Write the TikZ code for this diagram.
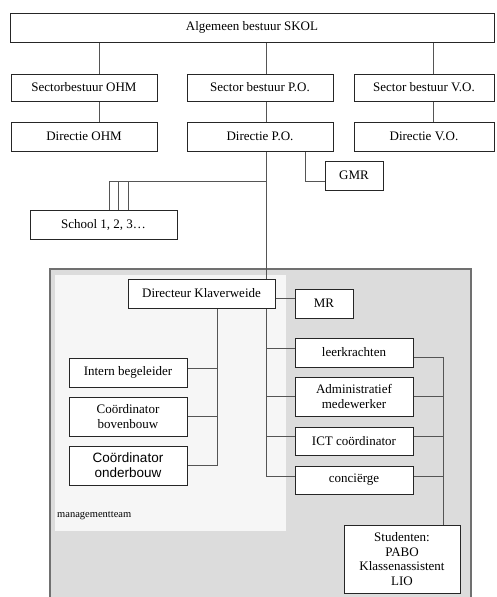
\documentclass[tikz,border=0pt]{standalone}
\usepackage{fontspec}
\setmainfont{Liberation Serif}
\newfontfamily\arialf{Liberation Sans}
\pgfdeclarelayer{bg}
\pgfdeclarelayer{lines}
\pgfsetlayers{bg,lines,main}
\definecolor{outerfill}{HTML}{DCDCDC}
\definecolor{innerfill}{HTML}{F6F6F6}
\definecolor{linecol}{HTML}{555555}
\definecolor{outerline}{HTML}{707070}
\tikzset{
  box/.style={draw=black!85, line width=0.8pt, fill=white, inner sep=1pt, align=center,
    font=\fontsize{13}{14.7}\selectfont},
  conn/.style={draw=linecol, line width=1pt},
}
\begin{document}
\begin{tikzpicture}[x=1pt,y=-1pt]
\useasboundingbox (0,0) rectangle (496,597);
% nodes
\node[box, minimum width=484, minimum height=29] (top) at (252,27.5) {Algemeen bestuur SKOL};
\node[box, minimum width=146, minimum height=27] (secOHM) at (84,87.5) {Sectorbestuur OHM};
\node[box, minimum width=146, minimum height=27] (secPO) at (260,87.5) {Sector bestuur P.O.};
\node[box, minimum width=140, minimum height=27] (secVO) at (424,87.5) {Sector bestuur V.O.};
\node[box, minimum width=146, minimum height=29] (dirOHM) at (84,136.5) {Directie OHM};
\node[box, minimum width=146, minimum height=29] (dirPO) at (260,136.5) {Directie P.O.};
\node[box, minimum width=140, minimum height=29] (dirVO) at (424,136.5) {Directie V.O.};
\node[box, minimum width=58, minimum height=29] (gmr) at (354,175.5) {GMR};
\node[box, minimum width=147, minimum height=29] (school) at (103.5,224.5) {School 1, 2, 3\ldots};
\node[box, minimum width=147, minimum height=29] (dir) at (201.5,293.5) {Directeur Klaverweide};
\node[box, minimum width=58, minimum height=29] (mr) at (324,303.5) {MR};
\node[box, minimum width=118, minimum height=29] (leer) at (354,352.5) {leerkrachten};
\node[box, minimum width=118, minimum height=39] (adm) at (354,396.5) {Administratief\\medewerker};
\node[box, minimum width=118, minimum height=28] (ict) at (354,441) {ICT co\"ordinator};
\node[box, minimum width=118, minimum height=28] (conc) at (354,480) {conci\"erge};
\node[box, minimum width=116, minimum height=68] (stud) at (402,559) {Studenten:\\PABO\\Klassenassistent\\LIO};
\node[box, minimum width=118, minimum height=29] (ib) at (128,372.5) {Intern begeleider};
\node[box, minimum width=118, minimum height=39] (cbb) at (128,416.5) {Co\"ordinator\\bovenbouw};
\node[box, minimum width=118, minimum height=39, font=\arialf\fontsize{13.5}{14.7}\selectfont] (cob) at (128,465.5) {Co\"ordinator\\onderbouw};
\node[anchor=west, inner sep=0pt, font=\fontsize{10.5}{12}\selectfont] (mt) at (57,516) {managementteam};
% helper coordinates
\coordinate (xa) at (99,0);
\coordinate (xb) at (266,0);
\coordinate (xc) at (433,0);
\coordinate (xg) at (305,0);
\coordinate (xr) at (443,0);
\coordinate (xl) at (217,0);
\coordinate (s1) at (109,0);
\coordinate (s2) at (118,0);
\coordinate (s3) at (128,0);
\coordinate (ys) at (0,181);
\coordinate (yMR) at (0,298);
\coordinate (yLeerL) at (0,348);
\coordinate (yLeerR) at (0,357);
\coordinate (yAdm) at (0,396);
\coordinate (yIct) at (0,436);
\coordinate (yConc) at (0,476);
\coordinate (yIb) at (0,368);
\coordinate (yCbb) at (0,416);
\coordinate (yCob) at (0,465);
\begin{pgfonlayer}{bg}
  \fill[outerfill] (50,269) rectangle (471,598);
  \draw[outerline, line width=1.5pt] (50,598) -- (50,269) -- (471,269) -- (471,598);
  \fill[innerfill] (55,275) rectangle (286,531);
\end{pgfonlayer}
\begin{pgfonlayer}{lines}
  \draw[conn] (top.south -| xa) -- (secOHM.north -| xa);
  \draw[conn] (secOHM.south -| xa) -- (dirOHM.north -| xa);
  \draw[conn] (top.south -| xb) -- (secPO.north -| xb);
  \draw[conn] (secPO.south -| xb) -- (dirPO.north -| xb);
  \draw[conn] (top.south -| xc) -- (secVO.north -| xc);
  \draw[conn] (secVO.south -| xc) -- (dirVO.north -| xc);
  % main trunk
  \draw[conn] (dirPO.south -| xb) -- (xb |- yConc) -- (conc.west |- yConc);
  % GMR
  \draw[conn] (dirPO.south -| xg) -- (xg |- ys) -- (gmr.west |- ys);
  % schools
  \draw[conn] (xb |- ys) -- (s1 |- ys) -- (school.north -| s1);
  \draw[conn] (s2 |- ys) -- (school.north -| s2);
  \draw[conn] (s3 |- ys) -- (school.north -| s3);
  % MR
  \draw[conn] (dir.east |- yMR) -- (mr.west |- yMR);
  % staff
  \draw[conn] (xb |- yLeerL) -- (leer.west |- yLeerL);
  \draw[conn] (xb |- yAdm) -- (adm.west |- yAdm);
  \draw[conn] (xb |- yIct) -- (ict.west |- yIct);
  % right collector
  \draw[conn] (leer.east |- yLeerR) -- (xr |- yLeerR) -- (stud.north -| xr);
  \draw[conn] (adm.east |- yAdm) -- (xr |- yAdm);
  \draw[conn] (ict.east |- yIct) -- (xr |- yIct);
  \draw[conn] (conc.east |- yConc) -- (xr |- yConc);
  % management team
  \draw[conn] (dir.south -| xl) -- (xl |- yCob) -- (cob.east |- yCob);
  \draw[conn] (ib.east |- yIb) -- (xl |- yIb);
  \draw[conn] (cbb.east |- yCbb) -- (xl |- yCbb);
\end{pgfonlayer}
\end{tikzpicture}
\end{document}
